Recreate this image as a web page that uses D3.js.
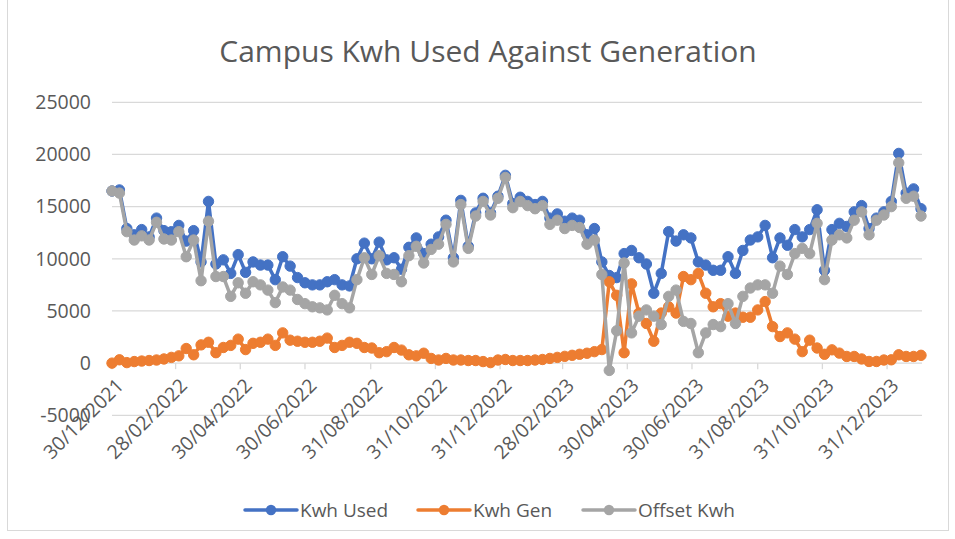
<!DOCTYPE html>
<html><head><meta charset="utf-8">
<script src="https://cdn.jsdelivr.net/npm/d3@7"></script>
<style>body{margin:0;background:#fff;} text{font-family:"Open Sans",sans-serif;}</style>
</head><body><svg id="c" width="955" height="539"></svg>
<script>
const dates = [
"2021-12-30",
"2022-01-06","2022-01-13","2022-01-20","2022-01-27","2022-02-03","2022-02-10","2022-02-17","2022-02-24",
"2022-03-03","2022-03-10","2022-03-17","2022-03-24","2022-03-31","2022-04-07","2022-04-14","2022-04-21","2022-04-28",
"2022-05-05","2022-05-12","2022-05-19","2022-05-26","2022-06-02","2022-06-09","2022-06-16","2022-06-23","2022-06-30",
"2022-07-07","2022-07-14","2022-07-21","2022-07-28","2022-08-04","2022-08-11","2022-08-18","2022-08-25",
"2022-09-01","2022-09-08","2022-09-15","2022-09-22","2022-09-29","2022-10-06","2022-10-13","2022-10-20","2022-10-27",
"2022-11-03","2022-11-10","2022-11-17","2022-11-24","2022-12-01","2022-12-08","2022-12-15","2022-12-22","2022-12-29",
"2023-01-05","2023-01-12","2023-01-19","2023-01-26","2023-02-02","2023-02-09","2023-02-16","2023-02-23",
"2023-03-02","2023-03-09","2023-03-16","2023-03-23","2023-03-30","2023-04-06","2023-04-13","2023-04-20","2023-04-27",
"2023-05-04","2023-05-11","2023-05-18","2023-05-25","2023-06-01","2023-06-08","2023-06-15","2023-06-22","2023-06-29",
"2023-07-06","2023-07-13","2023-07-20","2023-07-27","2023-08-03","2023-08-10","2023-08-17","2023-08-24","2023-08-31",
"2023-09-07","2023-09-14","2023-09-21","2023-09-28","2023-10-05","2023-10-12","2023-10-19","2023-10-26",
"2023-11-02","2023-11-09","2023-11-16","2023-11-23","2023-11-30","2023-12-07","2023-12-14","2023-12-21","2023-12-28",
"2024-01-04","2024-01-11","2024-01-18","2024-01-25","2024-02-01"
];
const kwhUsed = [
16500,16600,12900,12300,12800,12100,13900,12700,12600,13200,
11700,12700,9700,15500,9500,9900,8600,10400,8700,9700,
9400,9400,8000,10200,9300,8200,7700,7500,7500,7800,
8000,7500,7400,10000,11500,10000,11600,9900,10100,9000,
11100,12000,10500,11400,12100,13700,10100,15600,11200,14400,
15800,14400,16000,18000,15300,15900,15500,15200,15500,13900,
14300,13600,13900,13700,12300,12900,9700,8400,8200,10500,
10800,10100,9500,6700,8600,12600,11700,12300,12000,9700,
9400,8900,8900,10200,8600,10800,11800,12100,13200,10100,
12000,11300,12800,12100,12800,14700,8900,12800,13400,13100,
14500,15100,12900,13900,14500,15500,20100,16300,16700,14800
];
const kwhGen = [
0,320,50,150,200,250,300,400,550,700,
1400,800,1750,2000,1000,1500,1700,2300,1300,1900,
2000,2300,1700,2900,2200,2100,2000,2000,2100,2400,
1500,1700,2000,1900,1500,1450,1000,1100,1500,1250,
800,700,950,450,300,450,300,300,250,250,
150,50,300,350,250,250,250,300,350,450,
550,650,750,850,950,1100,1300,7800,6500,1000,
7600,4800,3800,2100,4800,5400,4800,8300,8000,8600,
6700,5400,5700,4500,4800,4400,4400,5100,5900,3500,
2550,2900,2300,1100,2200,1450,850,1275,960,640,
640,400,160,160,300,320,800,640,640,750
];
const offsetKwh = [
16500,16300,12600,11800,12200,11800,13500,11900,11800,12600,
10200,11800,7900,13600,8300,8300,6400,7700,6700,7800,
7500,7000,5800,7300,7000,6100,5700,5400,5300,5100,
6500,5700,5300,8000,10100,8500,10300,8600,8500,7800,
10300,11200,9600,10900,11400,13300,9700,15200,11000,14100,
15500,14200,15800,17800,14900,15500,15100,14800,15100,13300,
13700,12900,13200,13000,11400,11800,8500,-700,3100,9600,
2900,4500,5100,4500,3700,6400,7000,4000,3800,1000,
2900,3700,3500,5700,3800,6400,7200,7500,7500,6700,
9300,8500,10500,11000,10500,13400,8000,11800,12300,12000,
13700,14500,12300,13700,14200,15000,19200,15800,16000,14100
];
const xTickLabels = ["30/12/2021","28/02/2022","30/04/2022","30/06/2022","31/08/2022","31/10/2022",
"31/12/2022","28/02/2023","30/04/2023","30/06/2023","31/08/2023","31/10/2023","31/12/2023"];
const yTicks = [-5000,0,5000,10000,15000,20000,25000];
const seriesNames = ["Kwh Used","Kwh Gen","Offset Kwh"];
const seriesColors = ["#4472C4","#ED7D31","#A5A5A5"];
const titleText = "Campus Kwh Used Against Generation";

const svg = d3.select("#c");
const parseISO = d3.utcParse("%Y-%m-%d");
const parseLbl = d3.utcParse("%d/%m/%Y");
const xd = dates.map(parseISO);

const x = d3.scaleUtc().domain([xd[0], xd[xd.length-1]]).range([112, 921]);
const y = d3.scaleLinear().domain([-5000, 25000]).range([415.3, 102.3]);

// chart border
svg.append("rect").attr("x",7.5).attr("y",-2).attr("width",941).attr("height",532.5)
  .attr("fill","none").attr("stroke","#d9d9d9").attr("stroke-width",1);

// title
svg.append("text").attr("x",488).attr("y",62).attr("text-anchor","middle")
  .attr("font-size",30).attr("fill","#595959").text(titleText);

// gridlines
svg.append("g").selectAll("line").data(yTicks).join("line")
  .attr("x1",112).attr("x2",922).attr("y1",d=>y(d)).attr("y2",d=>y(d))
  .attr("stroke","#d9d9d9").attr("stroke-width",1.3);

// y labels
svg.append("g").selectAll("text").data(yTicks).join("text")
  .attr("x",91).attr("y",d=>y(d)).attr("dy","0.35em").attr("text-anchor","end")
  .attr("font-size",19.5).attr("fill","#595959").text(d=>d);

// x ticks
const tickDates = xTickLabels.map(parseLbl);
svg.append("g").selectAll("line").data(tickDates).join("line")
  .attr("x1",d=>x(d)).attr("x2",d=>x(d)).attr("y1",y(0)).attr("y2",y(0)+6)
  .attr("stroke","#d9d9d9").attr("stroke-width",1.3);
svg.append("g").selectAll("text").data(xTickLabels).join("text")
  .attr("transform",(d,i)=>`translate(${x(tickDates[i])+8},${y(0)+19}) rotate(-45)`)
  .attr("text-anchor","end").attr("dy","0.35em")
  .attr("font-size",19.5).attr("fill","#595959").text(d=>d);

// series
const all = [kwhUsed, kwhGen, offsetKwh];
const line = d3.line().x((d,i)=>x(xd[i])).y(d=>y(d));
all.forEach((vals,k)=>{
  const g = svg.append("g");
  g.append("path").attr("d", line(vals)).attr("fill","none")
    .attr("stroke",seriesColors[k]).attr("stroke-width",3.5).attr("stroke-linejoin","round");
  g.selectAll("circle").data(vals).join("circle")
    .attr("cx",(d,i)=>x(xd[i])).attr("cy",d=>y(d)).attr("r",5.2)
    .attr("fill",seriesColors[k]).attr("stroke",seriesColors[k]).attr("stroke-width",1);
});

// legend
const legX = [245, 418, 583];
const lg = svg.append("g");
seriesNames.forEach((n,k)=>{
  lg.append("line").attr("x1",legX[k]).attr("x2",legX[k]+52).attr("y1",510).attr("y2",510)
    .attr("stroke",seriesColors[k]).attr("stroke-width",3.5).attr("stroke-linecap","round");
  lg.append("circle").attr("cx",legX[k]+26).attr("cy",510).attr("r",5.2).attr("fill",seriesColors[k]);
  lg.append("text").attr("x",legX[k]+55).attr("y",510).attr("dy","0.35em")
    .attr("font-size",19).attr("fill","#595959").text(n);
});
</script></body></html>
